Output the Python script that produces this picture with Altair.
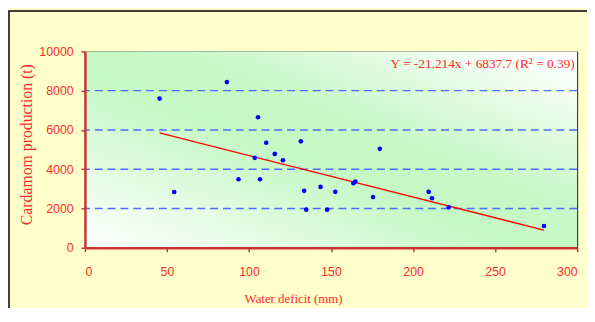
import altair as alt
import pandas as pd

# Scatter data
water_deficit = [45.5, 54.4, 86.5, 93.6, 103.5, 105.5, 106.7, 110.5, 115.7, 120.7,
                 131.6, 133.6, 134.9, 143.6, 147.6, 152.6, 163.6, 164.8, 175.6, 179.7,
                 209.5, 211.5, 221.7, 279.8]
production = [7600, 2840, 8440, 3490, 4580, 6650, 3490, 5350, 4780, 4460,
              5420, 2900, 1940, 3100, 1940, 2850, 3290, 3370, 2580, 5040,
              2850, 2520, 2060, 1110]

# Trend line end points
trend_x = [45.5, 279.8]
trend_y = [5850, 900]

# Dashed horizontal grid lines
grid_y = [2000, 4000, 6000, 8000]

# Equation label
eq_text = ["Y = -21.214x + 6837.7 (R\u00b2 = 0.39)"]
eq_x = [298.5]
eq_y = [9380]

x_ticks = [0, 50, 100, 150, 200, 250, 300]
y_ticks = [0, 2000, 4000, 6000, 8000, 10000]

W, H = 499, 199
RED = "#FF2A2A"
AXIS_RED = "#C83535"

pts = pd.DataFrame({"x": water_deficit, "y": production})
trend = pd.DataFrame({"x": trend_x, "y": trend_y})
grid = pd.DataFrame({"y": grid_y})
eq = pd.DataFrame({"x": eq_x, "y": eq_y, "t": eq_text})

xscale = alt.Scale(domain=[0, 300], nice=False)
yscale = alt.Scale(domain=[0, 10000], nice=False)

xaxis = alt.Axis(values=x_ticks, title="Water deficit (mm)", grid=False, format="d",
                 titleX=211, titleY=52, titleBaseline="middle", titleAlign="center",
                 titleFontSize=13, labelPadding=14, zindex=1)
yaxis = alt.Axis(values=y_ticks, title="Cardamom production (t)", grid=False, format="d",
                 titleX=-59, titleY=94, titleAngle=270, titleBaseline="middle",
                 titleAlign="center", titleFontSize=16, labelPadding=8, zindex=1)

gradient = alt.Gradient(
    gradient="linear",
    stops=[alt.GradientStop(color="#FFFFFF", offset=0),
           alt.GradientStop(color="#C4F8C4", offset=0.45),
           alt.GradientStop(color="#C8F8C8", offset=0.6),
           alt.GradientStop(color="#FFFFFF", offset=0.97)],
    x1=0, y1=1, x2=1, y2=0,
)

bg = alt.Chart(pd.DataFrame({"a": [0]})).mark_rect(fill=gradient, stroke=None).encode(
    x=alt.value(0), x2=alt.value(W), y=alt.value(0), y2=alt.value(H)
)

grid_layer = alt.Chart(grid).mark_rule(color="#4C6CFF", strokeWidth=1.3,
                                       strokeDash=[8, 5]).encode(
    y=alt.Y("y:Q", scale=yscale, axis=yaxis)
)

trend_layer = alt.Chart(trend).mark_line(color="#FF0000", strokeWidth=1.3).encode(
    x=alt.X("x:Q", scale=xscale, axis=xaxis),
    y=alt.Y("y:Q", scale=yscale, axis=yaxis),
)

pts_layer = alt.Chart(pts).mark_circle(color="#0000FF", opacity=1, size=22).encode(
    x=alt.X("x:Q", scale=xscale, axis=xaxis),
    y=alt.Y("y:Q", scale=yscale, axis=yaxis),
)

eq_layer = alt.Chart(eq).mark_text(align="right", baseline="middle", font="Liberation Serif",
                                   fontSize=13.5, color=RED).encode(
    x=alt.X("x:Q", scale=xscale, axis=xaxis),
    y=alt.Y("y:Q", scale=yscale, axis=yaxis),
    text="t:N",
)

border = alt.Chart(pd.DataFrame({"a": [0]})).mark_rect(
    fill=None, stroke="black", strokeWidth=1.5, clip=False
).encode(
    x=alt.value(-77), x2=alt.value(700), y=alt.value(-41), y2=alt.value(500)
)

chart = alt.layer(bg, grid_layer, trend_layer, pts_layer, eq_layer, border).properties(
    width=W, height=H,
    autosize=alt.AutoSizeParams(type="none"),
    padding={"left": 78, "top": 42, "right": 10, "bottom": 59},
    background="#FFFFCC",
).configure_view(
    stroke="black", strokeWidth=1, fill=None
).configure_axis(
    domainColor=AXIS_RED, domainWidth=2.5,
    tickColor=AXIS_RED, tickWidth=1.5, tickSize=4,
    labelColor=RED, labelFont="Liberation Sans", labelFontSize=12.5,
    titleColor=RED, titleFont="Liberation Serif", titleFontWeight="normal",
)

chart.save("out.html", embed_options={"renderer": "svg", "actions": False})
